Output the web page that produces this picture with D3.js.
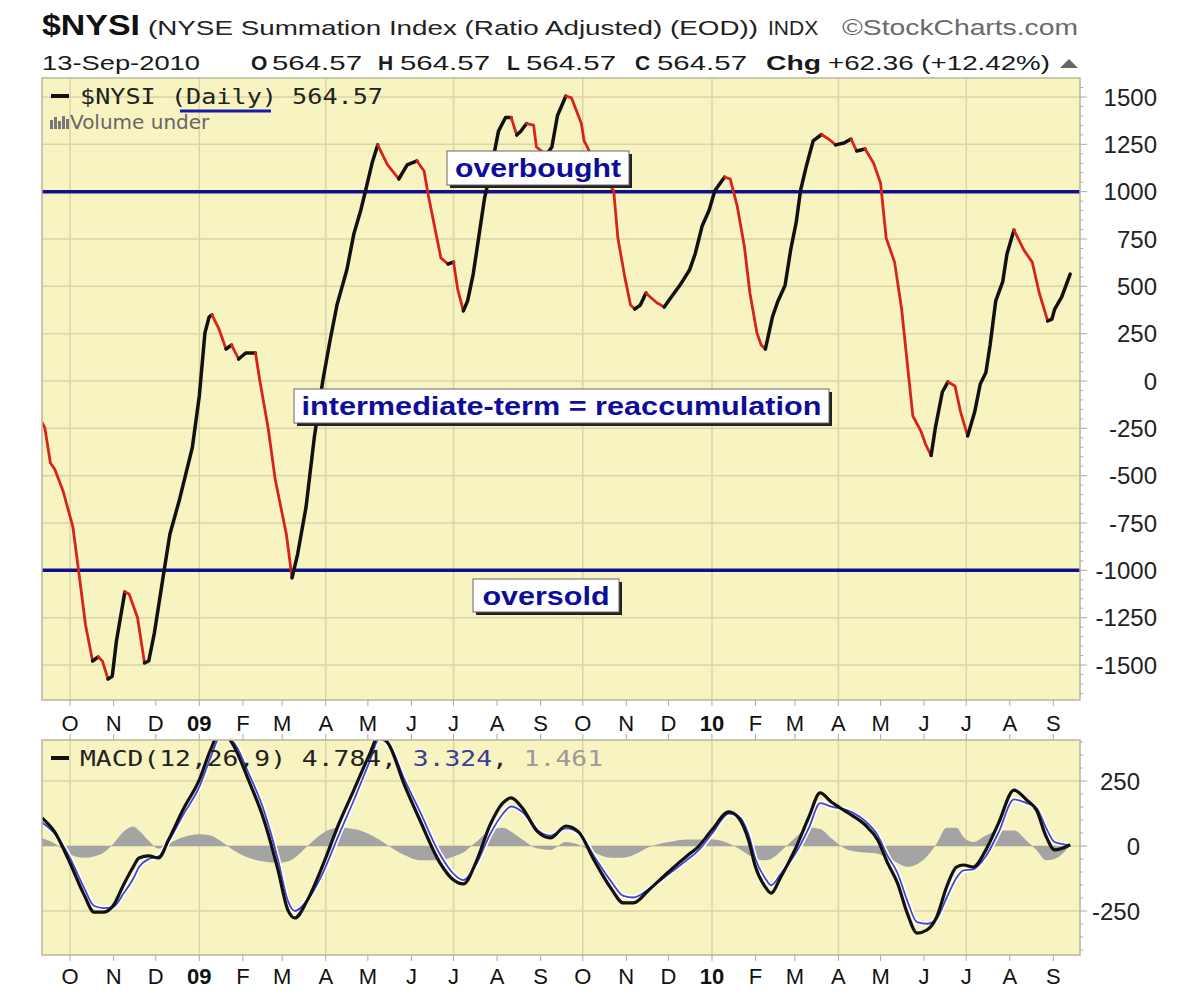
<!DOCTYPE html>
<html><head><meta charset="utf-8">
<script src="https://cdn.jsdelivr.net/npm/d3@7"></script>
<style>
html,body{margin:0;padding:0;background:#fff;}
svg{display:block;}
</style></head>
<body>
<svg id="chart" width="1200" height="999"></svg>
<script>
// ---------------- DATA ----------------
const nysiDates = ["2008-09-11","2008-09-13","2008-09-17","2008-09-20","2008-09-26","2008-10-03","2008-10-07","2008-10-12","2008-10-17","2008-10-21","2008-10-24","2008-10-28","2008-10-31","2008-11-03","2008-11-09","2008-11-12","2008-11-18","2008-11-23","2008-11-26","2008-11-30","2008-12-07","2008-12-11","2008-12-18","2008-12-27",
"2009-01-01","2009-01-05","2009-01-08","2009-01-10","2009-01-15","2009-01-20","2009-01-24","2009-01-29","2009-02-03","2009-02-10","2009-02-13","2009-02-19","2009-02-24","2009-03-04","2009-03-08","2009-03-12","2009-03-18","2009-03-24","2009-03-30","2009-04-04","2009-04-09","2009-04-16","2009-04-21","2009-04-26","2009-04-30","2009-05-04","2009-05-08","2009-05-15","2009-05-23","2009-05-29","2009-06-05","2009-06-10","2009-06-13","2009-06-18","2009-06-22","2009-06-27","2009-07-01","2009-07-04","2009-07-08","2009-07-11","2009-07-15","2009-07-18","2009-07-23","2009-07-28","2009-08-02","2009-08-07","2009-08-11","2009-08-15","2009-08-18","2009-08-22","2009-08-27","2009-08-29","2009-09-05","2009-09-09","2009-09-13","2009-09-19","2009-09-23","2009-09-30","2009-10-02","2009-10-12","2009-10-23","2009-10-26","2009-10-31","2009-11-04","2009-11-07","2009-11-11","2009-11-15","2009-11-18","2009-11-23","2009-11-28","2009-12-02","2009-12-09","2009-12-16","2009-12-20","2009-12-25","2009-12-30",
"2010-01-03","2010-01-10","2010-01-14","2010-01-19","2010-01-24","2010-01-28","2010-02-02","2010-02-05","2010-02-08","2010-02-13","2010-02-17","2010-02-22","2010-02-26","2010-03-02","2010-03-05","2010-03-09","2010-03-14","2010-03-20","2010-03-25","2010-03-30","2010-04-05","2010-04-10","2010-04-14","2010-04-20","2010-04-26","2010-05-01","2010-05-05","2010-05-11","2010-05-16","2010-05-21","2010-05-24","2010-05-30","2010-06-02","2010-06-06","2010-06-09","2010-06-14","2010-06-18","2010-06-23","2010-06-27","2010-07-02","2010-07-07","2010-07-11","2010-07-15","2010-07-18","2010-07-22","2010-07-27","2010-07-30","2010-08-04","2010-08-11","2010-08-17","2010-08-22","2010-08-28","2010-08-31","2010-09-02","2010-09-07","2010-09-13"];
const nysiValues = [-220,-247,-433,-465,-581,-771,-998,-1289,-1479,-1458,-1479,-1574,-1560,-1373,-1114,-1125,-1249,-1489,-1479,-1331,-998,-811,-623,-352,
-79,254,338,349,275,169,190,116,148,148,5,-248,-518,-811,-1040,-914,-665,-290,5,211,401,586,776,903,1025,1151,1247,1141,1067,1141,1162,1109,982,797,650,618,628,483,370,423,565,713,963,1130,1320,1392,1392,1299,1320,1360,1352,1236,1194,1236,1402,1505,1495,1360,1268,1120,1005,755,546,401,380,401,465,444,412,391,433,504,586,671,819,903,
1005,1077,1067,922,713,465,254,190,169,338,423,504,692,840,1005,1130,1268,1302,1278,1247,1257,1278,1215,1225,1151,1046,755,628,380,26,-185,-269,-333,-394,-248,-58,-5,-26,-164,-290,-164,-16,45,190,423,525,671,797,692,628,465,317,327,380,444,564.57];

const macdDates = ["2008-09-11","2008-09-20","2008-09-30","2008-10-11","2008-10-18","2008-10-25","2008-11-01","2008-11-08","2008-11-15","2008-11-19","2008-11-26","2008-12-03","2008-12-10","2008-12-21","2009-01-01","2009-01-09","2009-01-16","2009-01-25","2009-02-05","2009-02-16","2009-02-26","2009-03-05","2009-03-10","2009-03-19","2009-03-30","2009-04-10","2009-04-21","2009-05-02","2009-05-09","2009-05-16","2009-05-27","2009-06-07","2009-06-21","2009-07-01","2009-07-08","2009-07-17","2009-07-27","2009-08-05","2009-08-11","2009-08-19","2009-08-30","2009-09-08","2009-09-19","2009-09-28","2009-10-09","2009-10-21","2009-10-30","2009-11-06","2009-11-17","2009-12-01","2009-12-15","2009-12-22","2010-01-01","2010-01-13","2010-01-20","2010-01-27","2010-02-01","2010-02-08","2010-02-12","2010-02-19","2010-03-01","2010-03-11","2010-03-19","2010-03-27","2010-04-08","2010-04-20","2010-04-29","2010-05-06","2010-05-13","2010-05-20","2010-05-27","2010-06-03","2010-06-10","2010-06-17","2010-06-24","2010-06-29","2010-07-06","2010-07-15","2010-07-24","2010-08-04","2010-08-13","2010-08-20","2010-08-27","2010-09-02","2010-09-13"];
const macdValues = [108,54,-54,-188,-254,-254,-227,-150,-80,-46,-38,-46,23,146,254,370,440,390,254,100,-92,-246,-277,-208,-73,81,215,350,425,390,235,100,-62,-131,-146,-62,81,165,185,146,54,31,77,54,-54,-162,-219,-219,-169,-100,-35,-4,62,131,108,23,-81,-158,-181,-119,-15,112,204,169,127,81,23,-65,-142,-258,-335,-323,-273,-158,-81,-73,-81,-15,88,215,177,138,35,-15,4.784];
const signalValues = [90,48,-36,-161,-230,-239,-233,-183,-125,-82,-50,-40,17,125,227,340,420,400,281,136,-53,-210,-250,-208,-103,39,176,322,410,390,256,133,-29,-107,-131,-71,45,123,152,131,60,40,68,51,-39,-135,-192,-198,-166,-109,-50,-19,47,125,114,44,-51,-125,-151,-107,-33,70,165,151,136,96,41,-38,-103,-210,-293,-299,-279,-200,-123,-94,-90,-39,52,179,165,147,68,15,3.324];
const histValues = [30,10,-30,-45,-40,-25,10,55,75,60,20,-10,10,35,45,40,20,-15,-45,-60,-65,-60,-45,0,50,70,65,45,25,0,-35,-55,-55,-40,-25,15,60,70,55,25,-10,-15,15,5,-25,-45,-45,-35,-5,15,25,25,25,10,-10,-35,-50,-55,-50,-20,30,70,65,30,-15,-25,-30,-45,-65,-80,-70,-40,10,70,70,35,15,40,60,60,20,-15,-55,-50,1.461];

const mainTicks = [1500,1250,1000,750,500,250,0,-250,-500,-750,-1000,-1250,-1500];
const macdTicks = [250,0,-250];
const monthTicks = ["2008-10-01","2008-11-01","2008-12-01","2009-01-01","2009-02-01","2009-03-01","2009-04-01","2009-05-01","2009-06-01","2009-07-01","2009-08-01","2009-09-01","2009-10-01","2009-11-01","2009-12-01","2010-01-01","2010-02-01","2010-03-01","2010-04-01","2010-05-01","2010-06-01","2010-07-01","2010-08-01","2010-09-01"];
const monthLabels = ["O","N","D","09","F","M","A","M","J","J","A","S","O","N","D","10","F","M","A","M","J","J","A","S"];
const overbought = 1000, oversold = -1000;

// ---------------- LAYOUT ----------------
const svg = d3.select("#chart");
const L = 42, R = 1080;
const M = {top:78, bottom:700};
const P2 = {top:740, bottom:955};
const parse = d3.utcParse("%Y-%m-%d");
const x = d3.scaleUtc().domain([parse("2008-09-11"), parse("2010-09-20")]).range([L, R]);
const y = d3.scaleLinear().domain([-1500,1500]).range([665,97]);
const y2 = d3.scaleLinear().domain([-250,250]).range([911,781]);

const BG = "#f8f4c1", GRID = "#d9d5a8", BORDER = "#b9b79a";
const quarterTicks = monthTicks.filter(d => [0,3,6,9].includes(parse(d).getUTCMonth()));

function panel(top, bottom, yScale, ticks, id) {
  const g = svg.append("g");
  g.append("rect").attr("x", L).attr("y", top).attr("width", R-L).attr("height", bottom-top)
    .attr("fill", BG);
  g.selectAll(".hg").data(ticks).join("line")
    .attr("x1", L).attr("x2", R).attr("y1", d => yScale(d)).attr("y2", d => yScale(d))
    .attr("stroke", GRID).attr("stroke-width", 1.5);
  g.selectAll(".vg").data(quarterTicks).join("line")
    .attr("x1", d => x(parse(d))).attr("x2", d => x(parse(d)))
    .attr("y1", top).attr("y2", bottom).attr("stroke", GRID).attr("stroke-width", 1.5);
  svg.append("clipPath").attr("id", id).append("rect")
    .attr("x", L).attr("y", top).attr("width", R-L).attr("height", bottom-top);
  return g;
}
function border(top, bottom) {
  svg.append("rect").attr("x", L).attr("y", top).attr("width", R-L).attr("height", bottom-top)
    .attr("fill", "none").attr("stroke", BORDER).attr("stroke-width", 1.5);
}

// ---------------- MAIN PANEL ----------------
panel(M.top, M.bottom, y, mainTicks, "clipMain");
const mainG = svg.append("g").attr("clip-path", "url(#clipMain)");

mainG.selectAll(".lvl").data([overbought, oversold]).join("line")
  .attr("x1", L).attr("x2", R).attr("y1", d => y(d)).attr("y2", d => y(d))
  .attr("stroke", "#10108a").attr("stroke-width", 3.5);

// colored runs: black when rising, red when falling
const pts = nysiDates.map((d,i) => ({date: parse(d), v: nysiValues[i]}));
const runs = [];
for (let i = 1; i < pts.length; i++) {
  const up = pts[i].v >= pts[i-1].v;
  const last = runs[runs.length-1];
  if (last && last.up === up) last.pts.push(pts[i]);
  else runs.push({up, pts:[pts[i-1], pts[i]]});
}
const line = d3.line().x(d => x(d.date)).y(d => y(d.v));
mainG.selectAll(".run").data(runs).join("path")
  .attr("d", d => line(d.pts)).attr("fill", "none")
  .attr("stroke", d => d.up ? "#111" : "#d8231b")
  .attr("stroke-width", d => d.up ? 3.5 : 2.8)
  .attr("stroke-linejoin", "round").attr("stroke-linecap", "round");

// annotation boxes
function note(text, x0, y0, w, h, tw) {
  const g = svg.append("g");
  g.append("rect").attr("x", x0+3).attr("y", y0+3).attr("width", w).attr("height", h).attr("fill", "#222");
  g.append("rect").attr("x", x0).attr("y", y0).attr("width", w).attr("height", h)
    .attr("fill", "#fff").attr("stroke", "#666").attr("stroke-width", 1);
  g.append("text").attr("x", x0 + w/2).attr("y", y0 + h/2).attr("dy", "0.36em")
    .attr("text-anchor", "middle").attr("font-family", "Liberation Sans, Arial, sans-serif")
    .attr("font-weight", "bold").attr("font-size", 26).attr("fill", "#0d0d9a")
    .attr("textLength", tw).attr("lengthAdjust", "spacingAndGlyphs").text(text);
}
note("overbought", 447, 151, 182, 34, 166);
note("intermediate-term = reaccumulation", 294, 389, 535, 34, 520);
note("oversold", 473, 579, 146, 33, 127);

border(M.top, M.bottom);

// legend in main panel
const mono = "DejaVu Sans Mono, Liberation Mono, monospace";
svg.append("line").attr("x1", 51).attr("x2", 69).attr("y1", 96).attr("y2", 96).attr("stroke", "#111").attr("stroke-width", 4);
svg.append("text").attr("x", 80).attr("y", 104).attr("font-family", mono).attr("font-size", 22)
  .attr("fill", "#222").attr("textLength", 303).attr("lengthAdjust", "spacingAndGlyphs")
  .text("$NYSI (Daily) 564.57");
svg.append("line").attr("x1", 180).attr("x2", 271).attr("y1", 111).attr("y2", 111).attr("stroke", "#1a1ab0").attr("stroke-width", 3);
const vIcon = [[50,9],[54,12],[58,8],[62,13],[66,10]];
svg.selectAll(".vi").data(vIcon).join("rect")
  .attr("x", d => d[0]).attr("y", d => 129 - d[1]).attr("width", 3).attr("height", d => d[1]).attr("fill", "#777");
svg.append("text").attr("x", 70).attr("y", 129).attr("font-family", "DejaVu Sans, sans-serif").attr("font-size", 20)
  .attr("fill", "#666").text("Volume under");

// right axis main
const axisFont = "Liberation Sans, Arial, sans-serif";
svg.append("g").selectAll("text").data(mainTicks).join("text")
  .attr("x", 1157).attr("y", d => y(d)).attr("dy", "0.36em").attr("text-anchor", "end")
  .attr("font-family", axisFont).attr("font-size", 24).attr("fill", "#222").text(d => d);
const minorMain = d3.range(-1650, 1600, 50);
svg.append("g").selectAll("line").data(minorMain).join("line")
  .attr("x1", R).attr("x2", d => R + (d % 250 === 0 ? 7 : 3)).attr("y1", d => y(d)).attr("y2", d => y(d))
  .attr("stroke", "#aaa").attr("stroke-width", 1);

function monthAxis(yTop, yBottom, baseline) {
  const g = svg.append("g");
  g.selectAll("line.t1").data(monthTicks).join("line")
    .attr("x1", d => x(parse(d))).attr("x2", d => x(parse(d))).attr("y1", yTop).attr("y2", yTop + 6)
    .attr("stroke", "#aaa");
  if (yBottom) g.selectAll("line.t2").data(monthTicks).join("line")
    .attr("x1", d => x(parse(d))).attr("x2", d => x(parse(d))).attr("y1", yBottom - 6).attr("y2", yBottom)
    .attr("stroke", "#aaa");
  g.selectAll("text").data(monthTicks).join("text")
    .attr("x", d => x(parse(d))).attr("y", baseline).attr("text-anchor", "middle")
    .attr("font-family", axisFont).attr("font-size", 22)
    .attr("font-weight", (d,i) => /\d/.test(monthLabels[i]) ? "bold" : "normal")
    .attr("fill", "#111").text((d,i) => monthLabels[i]);
}
monthAxis(M.bottom, P2.top, 731);

// ---------------- MACD PANEL ----------------
panel(P2.top, P2.bottom, y2, macdTicks, "clipMacd");
const macdG = svg.append("g").attr("clip-path", "url(#clipMacd)");
const mpts = macdDates.map((d,i) => ({date: parse(d), m: macdValues[i], s: signalValues[i], h: histValues[i]}));
macdG.append("path").datum(mpts)
  .attr("d", d3.area().x(d => x(d.date)).y0(y2(0)).y1(d => y2(d.h)).curve(d3.curveMonotoneX))
  .attr("fill", "#a4a4a4");
const sigLine = d3.line().x(d => x(d.date)).y(d => y2(d.s)).curve(d3.curveMonotoneX);
const macdLine = d3.line().x(d => x(d.date)).y(d => y2(d.m)).curve(d3.curveMonotoneX);
macdG.append("path").datum(mpts).attr("d", sigLine).attr("fill", "none").attr("stroke", "#fff").attr("stroke-width", 5);
macdG.append("path").datum(mpts).attr("d", sigLine).attr("fill", "none").attr("stroke", "#4646c8").attr("stroke-width", 1.8);
macdG.append("path").datum(mpts).attr("d", macdLine).attr("fill", "none").attr("stroke", "#111").attr("stroke-width", 3.2)
  .attr("stroke-linejoin", "round");
border(P2.top, P2.bottom);

// MACD legend
svg.append("line").attr("x1", 51).attr("x2", 69).attr("y1", 758).attr("y2", 758).attr("stroke", "#111").attr("stroke-width", 4);
const lg = svg.append("text").attr("x", 80).attr("y", 766).attr("font-family", mono).attr("font-size", 22)
  .attr("textLength", 523).attr("lengthAdjust", "spacingAndGlyphs");
lg.append("tspan").attr("fill", "#222").text("MACD(12,26,9) 4.784, ");
lg.append("tspan").attr("fill", "#3c3c9c").text("3.324");
lg.append("tspan").attr("fill", "#222").text(", ");
lg.append("tspan").attr("fill", "#9a9a9a").text("1.461");

svg.append("g").selectAll("text").data(macdTicks).join("text")
  .attr("x", 1140).attr("y", d => y2(d)).attr("dy", "0.36em").attr("text-anchor", "end")
  .attr("font-family", axisFont).attr("font-size", 24).attr("fill", "#222").text(d => d);
svg.append("g").selectAll("line").data(d3.range(-400, 420, 50)).join("line")
  .attr("x1", R).attr("x2", d => R + (d % 250 === 0 ? 7 : 3)).attr("y1", d => y2(d)).attr("y2", d => y2(d))
  .attr("stroke", "#aaa");

monthAxis(P2.bottom, null, 984);

// ---------------- HEADER ----------------
const hf = "Liberation Sans, Arial, sans-serif";
svg.append("text").attr("x", 42).attr("y", 35).attr("font-family", hf).attr("font-weight", "bold")
  .attr("font-size", 30).attr("fill", "#111").attr("textLength", 98).attr("lengthAdjust", "spacingAndGlyphs").text("$NYSI");
svg.append("text").attr("x", 148).attr("y", 35).attr("font-family", hf).attr("font-size", 21)
  .attr("fill", "#222").attr("textLength", 610).attr("lengthAdjust", "spacingAndGlyphs")
  .text("(NYSE Summation Index (Ratio Adjusted) (EOD))");
svg.append("text").attr("x", 768).attr("y", 35).attr("font-family", hf).attr("font-size", 21)
  .attr("fill", "#222").text("INDX");
svg.append("text").attr("x", 842).attr("y", 35).attr("font-family", hf).attr("font-size", 22)
  .attr("fill", "#6a6a6a").attr("textLength", 236).attr("lengthAdjust", "spacingAndGlyphs").text("©StockCharts.com");

const row2 = [
  {t:"13-Sep-2010", x:42, b:false, w:158},
  {t:"O", x:251, b:true}, {t:"564.57", x:272, b:false, w:90},
  {t:"H", x:378, b:true}, {t:"564.57", x:400, b:false, w:90},
  {t:"L", x:507, b:true}, {t:"564.57", x:526, b:false, w:90},
  {t:"C", x:635, b:true}, {t:"564.57", x:657, b:false, w:90},
  {t:"Chg", x:766, b:true, w:55}, {t:"+62.36 (+12.42%)", x:828, b:false, w:222}
];
svg.append("g").selectAll("text").data(row2).join("text")
  .attr("x", d => d.x).attr("y", 70).attr("font-family", hf).attr("font-size", 21)
  .attr("font-weight", d => d.b ? "bold" : "normal").attr("fill", "#1a1a1a")
  .each(function(d){ if (d.w) d3.select(this).attr("textLength", d.w).attr("lengthAdjust", "spacingAndGlyphs"); })
  .text(d => d.t);
svg.append("path").attr("d", "M1060,68 L1069,59 L1078,68 Z").attr("fill", "#666");
</script>
</body></html>
